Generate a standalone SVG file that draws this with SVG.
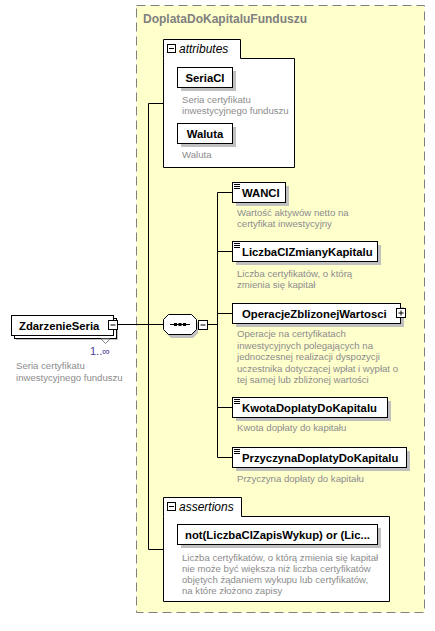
<svg xmlns="http://www.w3.org/2000/svg" width="435" height="631" viewBox="0 0 435 631">
<style>
.box{fill:#fff;stroke:#000;stroke-width:1}
.sh{fill:#c0c0c0}
.lbl{font-family:"Liberation Sans",Arial,sans-serif;font-weight:bold;font-size:11.3px;fill:#000}
.desc{font-family:"Liberation Sans",Arial,sans-serif;font-size:9.6px;fill:#8c8c8c}
.it{font-family:"Liberation Sans",Arial,sans-serif;font-style:italic;font-size:12px;fill:#000}
.ln{stroke:#000;stroke-width:1;fill:none}
.btn{fill:#fff;stroke:#000;stroke-width:1}
</style>
<rect width="435" height="631" fill="#fff"/>
<g id="complexType">
<rect x="136.5" y="5.5" width="288" height="607" fill="#ffffcc" stroke="#808080" stroke-dasharray="9,5"/>
<text x="143" y="23" style="font-family:'Liberation Sans',Arial,sans-serif;font-weight:bold;font-size:12px;fill:#808080">DoplataDoKapitaluFunduszu</text>
</g>
<g id="connectors" class="ln">
<path d="M117 324.5H163M148.5 103.5V549.5M148.5 103.5H163M148.5 549.5H163M207 324.5H217.5M217.5 192.5V457.5M217.5 192.5H232M217.5 251.5H232M217.5 313.5H232M217.5 407.5H232M217.5 457.5H232"/>
</g>
<g id="ZdarzenieSeria">
<rect class="sh" x="16" y="320" width="102" height="20"/>
<rect class="box" x="14.5" y="318.5" width="102" height="20"/>
<rect class="box" x="11.5" y="315.5" width="102" height="20"/>
<text class="lbl" x="19" y="330">ZdarzenieSeria</text>
<rect class="btn" x="108.5" y="320.5" width="9" height="9"/>
<path class="ln" d="M110.5 325H115.5"/>
<path d="M101 339H110L105.5 343.5Z" fill="#fff" stroke="#808080"/>
<text x="90" y="355" style="font-family:'Liberation Sans',Arial,sans-serif;font-size:11px;fill:#4b3c96">1..∞</text>
<text class="desc" x="16" y="369">Seria certyfikatu</text>
<text class="desc" x="16" y="381">inwestycyjnego funduszu</text>
</g>
<g id="attributes">
<path d="M163.5 58.5V39.5H240.5V58.5H294.5V167.5H163.5Z" fill="#fff" stroke="#000"/>
<rect class="btn" x="167.5" y="44.5" width="8" height="8"/>
<path class="ln" d="M169 48.5H174"/>
<text class="it" x="179" y="53">attributes</text>
</g>
<g id="SeriaCI">
<rect class="sh" x="181" y="71" width="55" height="20"/>
<rect class="box" x="177.5" y="67.5" width="55" height="20"/>
<text class="lbl" x="205" y="82" text-anchor="middle">SeriaCI</text>
<text class="desc" x="182" y="103">Seria certyfikatu</text>
<text class="desc" x="182" y="114">inwestycyjnego funduszu</text>
</g>
<g id="Waluta">
<rect class="sh" x="181" y="127" width="55" height="20"/>
<rect class="box" x="177.5" y="123.5" width="55" height="20"/>
<text class="lbl" x="205" y="138" text-anchor="middle">Waluta</text>
<text class="desc" x="182" y="158">Waluta</text>
</g>
<g id="sequence">
<path d="M171 318H193L198 323V333L193 338H171L166 333V323Z" fill="#c0c0c0"/>
<path d="M168.5 314.5H191.5L196.5 319.5V329.5L191.5 334.5H168.5L163.5 329.5V319.5Z" fill="#fff" stroke="#000"/>
<path class="ln" d="M170 324.5H190"/>
<rect x="174" y="323" width="3" height="3"/><rect x="178.5" y="323" width="3" height="3"/><rect x="183" y="323" width="3" height="3"/>
<rect class="btn" x="198.5" y="320.5" width="9" height="9"/>
<path class="ln" d="M200.5 325H205.5"/>
</g>
<g id="WANCI">
<rect class="sh" x="236" y="186" width="53" height="20"/>
<rect class="box" x="232.5" y="182.5" width="53" height="20"/>
<path class="ln" d="M234 184.5H240M234 186.5H240M234 188.5H240"/>
<text class="lbl" x="242" y="197">WANCI</text>
<text class="desc" x="237" y="216">Wartość aktywów netto na</text>
<text class="desc" x="237" y="227">certyfikat inwestycyjny</text>
</g>
<g id="LiczbaCIZmianyKapitalu">
<rect class="sh" x="236" y="245" width="145" height="20"/>
<rect class="box" x="232.5" y="241.5" width="145" height="20"/>
<path class="ln" d="M234 243.5H240M234 245.5H240M234 247.5H240"/>
<text class="lbl" x="242" y="256">LiczbaCIZmianyKapitalu</text>
<text class="desc" x="237" y="277">Liczba certyfikatów, o którą</text>
<text class="desc" x="237" y="288">zmienia się kapitał</text>
</g>
<g id="OperacjeZblizonejWartosci">
<rect class="sh" x="236" y="307" width="168" height="20"/>
<rect class="box" x="232.5" y="303.5" width="168" height="20"/>
<text class="lbl" x="242" y="318">OperacjeZblizonejWartosci</text>
<rect class="btn" x="396.5" y="308.5" width="9" height="9"/>
<path class="ln" d="M398.5 313H403.5M401 310.5V315.5"/>
<text class="desc" x="237" y="337">Operacje na certyfikatach</text>
<text class="desc" x="237" y="348.5">inwestycyjnych polegających na</text>
<text class="desc" x="237" y="360">jednoczesnej realizacji dyspozycji</text>
<text class="desc" x="237" y="371.5">uczestnika dotyczącej wpłat i wypłat o</text>
<text class="desc" x="237" y="383">tej samej lub zbliżonej wartości</text>
</g>
<g id="KwotaDoplatyDoKapitalu">
<rect class="sh" x="236" y="401" width="155" height="20"/>
<rect class="box" x="232.5" y="397.5" width="155" height="20"/>
<path class="ln" d="M234 399.5H240M234 401.5H240M234 403.5H240"/>
<text class="lbl" x="242" y="412">KwotaDoplatyDoKapitalu</text>
<text class="desc" x="237" y="431">Kwota dopłaty do kapitału</text>
</g>
<g id="PrzyczynaDoplatyDoKapitalu">
<rect class="sh" x="236" y="451" width="174" height="20"/>
<rect class="box" x="232.5" y="447.5" width="174" height="20"/>
<path class="ln" d="M234 449.5H240M234 451.5H240M234 453.5H240"/>
<text class="lbl" x="242" y="462">PrzyczynaDoplatyDoKapitalu</text>
<text class="desc" x="237" y="482">Przyczyna dopłaty do kapitału</text>
</g>
<g id="assertions">
<path d="M163.5 516.5V497.5H241.5V516.5H389.5V601.5H163.5Z" fill="#fff" stroke="#000"/>
<rect class="btn" x="167.5" y="502.5" width="8" height="8"/>
<path class="ln" d="M169 506.5H174"/>
<text class="it" x="179" y="511">assertions</text>
<rect class="sh" x="181" y="528" width="200" height="20"/>
<rect class="box" x="177.5" y="524.5" width="200" height="20"/>
<text class="lbl" x="277.5" y="539" text-anchor="middle">not(LiczbaCIZapisWykup) or (Lic...</text>
<text class="desc" x="182" y="561">Liczba certyfikatów, o którą zmienia się kapitał</text>
<text class="desc" x="182" y="572">nie może być większa niż liczba certyfikatów</text>
<text class="desc" x="182" y="583">objętych żądaniem wykupu lub certyfikatów,</text>
<text class="desc" x="182" y="594">na które złożono zapisy</text>
</g>
</svg>
